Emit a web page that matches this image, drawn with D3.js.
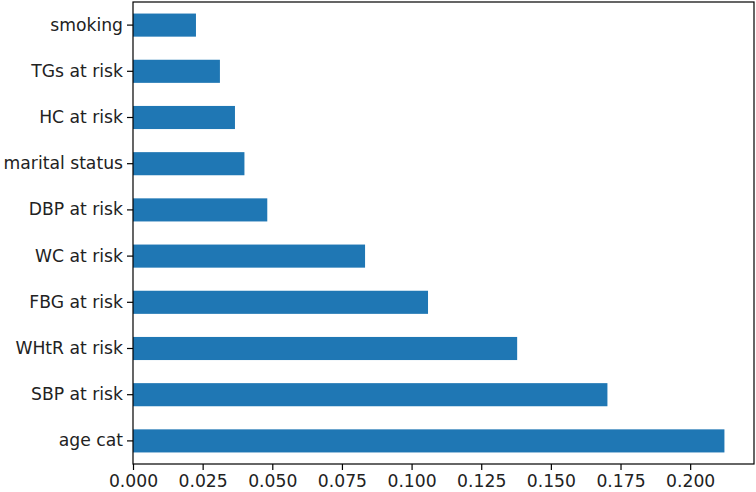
<!DOCTYPE html>
<html><head><meta charset="utf-8">
<script src="https://cdn.jsdelivr.net/npm/d3@7"></script>
<style>body{margin:0;background:#fff}svg{display:block}</style>
</head><body><svg id="c" width="756" height="492"></svg>
<script>
const categories = ["smoking","TGs at risk","HC at risk","marital status","DBP at risk","WC at risk","FBG at risk","WHtR at risk","SBP at risk","age cat"];
const values = [0.0226,0.0312,0.0366,0.0400,0.0482,0.0833,0.1059,0.1379,0.1703,0.2123];
const xTicks = [0,0.025,0.05,0.075,0.1,0.125,0.15,0.175,0.2];

const svg = d3.select("#c");
const L=133, R=754, T=2, B=464;
const x = d3.scaleLinear().domain([0, d3.max(values)*1.05]).range([L,R]);
const y = d3.scaleBand().domain(categories).range([T,B]).paddingInner(0.5).paddingOuter(0.25);

svg.append("g").selectAll("rect").data(values).join("rect")
  .attr("x", x(0)).attr("y",(d,i)=>y(categories[i]))
  .attr("width",d=>x(d)-x(0)).attr("height",y.bandwidth())
  .attr("fill","#1f77b4");

const font = "DejaVu Sans";
const xa = svg.append("g").attr("transform",`translate(0,${B})`)
  .call(d3.axisBottom(x).tickValues(xTicks).tickFormat(d3.format(".3f")).tickSize(6).tickPadding(5));
const ya = svg.append("g").attr("transform",`translate(${L},0)`)
  .call(d3.axisLeft(y).tickSize(6).tickPadding(4));
[xa,ya].forEach(a=>{
  a.select(".domain").remove();
  a.selectAll("line").attr("stroke","#000").attr("stroke-width",1.2);
  a.selectAll("text").attr("font-family",font).attr("font-size","17.2px").attr("fill","#222");
});
svg.append("rect").attr("x",L).attr("y",T).attr("width",R-L).attr("height",B-T)
  .attr("fill","none").attr("stroke","#000").attr("stroke-width",1.2);
</script></body></html>
